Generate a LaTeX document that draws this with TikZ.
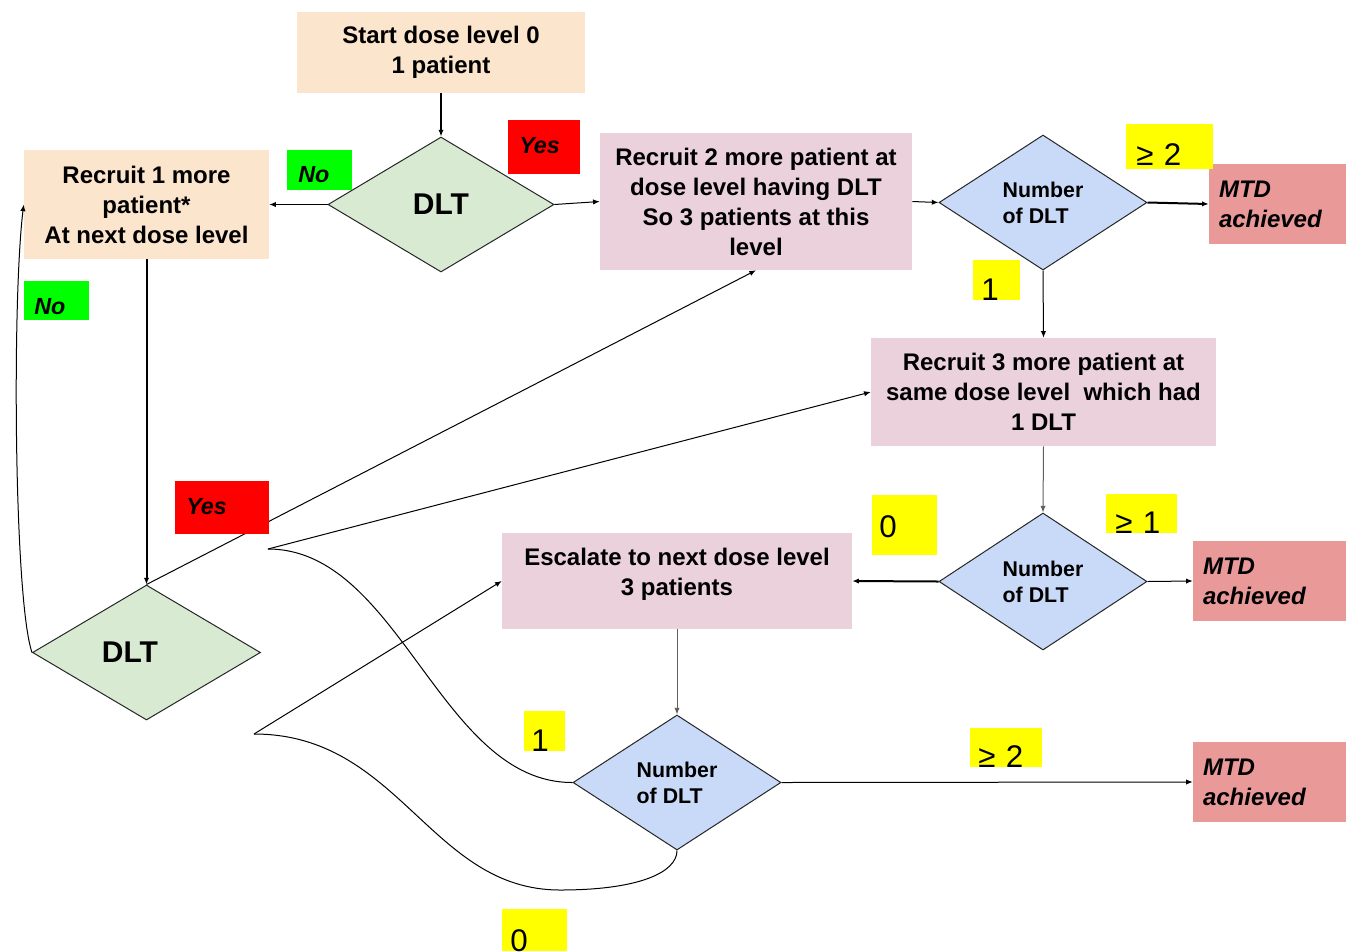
\documentclass[tikz,border=0pt]{standalone}
\usepackage{fontspec}
\setmainfont{Liberation Sans}
\usetikzlibrary{shapes.geometric,arrows.meta}
\definecolor{peachc}{HTML}{FCE5CD}
\definecolor{greenc}{HTML}{D9EAD3}
\definecolor{pinkc}{HTML}{EAD1DC}
\definecolor{bluec}{HTML}{C9DAF8}
\definecolor{mtdc}{HTML}{EA9999}
\definecolor{labgreen}{HTML}{00FF00}
\definecolor{labred}{HTML}{FF0000}
\definecolor{labyellow}{HTML}{FFFF00}
\definecolor{linegray}{HTML}{606060}
\begin{document}
\begin{tikzpicture}[x=0.75pt,y=-0.75pt,
  boxtext/.style={font=\bfseries\fontsize{18}{22.5}\selectfont, align=center, inner sep=0pt},
  box/.style={boxtext, rectangle},
  dia/.style={diamond, draw=black!85, line width=0.75pt, inner sep=0pt},
  dlttext/.style={font=\bfseries\fontsize{22.5}{27}\selectfont},
  numtext/.style={font=\bfseries\fontsize{16}{19.5}\selectfont, align=left},
  mtdbox/.style={rectangle, fill=mtdc, font=\bfseries\itshape\fontsize{18}{22.5}\selectfont, align=left, inner xsep=7.5pt, inner ysep=0pt, minimum height=60pt},
  lab/.style={anchor=base west, inner ysep=0pt, align=left},
  yn/.style={lab, font=\bfseries\itshape\fontsize{17.5}{21}\selectfont},
  ylab/.style={lab, fill=labyellow, font=\fontsize{23.5}{28}\selectfont},
  arr/.style={-{Latex[length=5pt,width=4pt]}, line width=0.75pt},
  thickarr/.style={arr, line width=1.5pt},
  plain/.style={line width=0.75pt}
]
\useasboundingbox (0,0) rectangle (1347,951);

% boxes
\node[box, fill=peachc, minimum width=216pt, minimum height=60.75pt] (start) at (441,52.5) {Start dose level 0\\1 patient\rule[-3pt]{0pt}{0pt}};
\node[box, fill=peachc, minimum width=183.75pt, minimum height=81.75pt] (rec1) at (146.5,204.5) {Recruit 1 more\\patient*\\At next dose level};
\node[box, fill=pinkc, minimum width=234pt, minimum height=102.75pt] (rec2) at (756,201.5) {Recruit 2 more patient at\\dose level having DLT\\So 3 patients at this\\level};
\node[box, fill=pinkc, minimum width=258.75pt, minimum height=81pt] (rec3) at (1043.5,392) {Recruit 3 more patient at\\same dose level\ \ which had\\1 DLT};
\node[box, fill=pinkc, minimum width=262.5pt, minimum height=72pt] (esc) at (677,581) {Escalate to next dose level\\3 patients\rule[-14pt]{0pt}{0pt}};

% diamonds
\node[dia, dlttext, fill=greenc, minimum width=169.5pt, minimum height=101.25pt] (dlt1) at (441,204.5) {DLT};
\node[dia, dlttext, fill=greenc, minimum width=171pt, minimum height=101.25pt] (dlt2) at (146.5,652.5) {DLT\hspace*{24.75pt}};
\node[dia, numtext, fill=bluec, minimum width=156pt, minimum height=101.25pt] (num1) at (1043,202.5) {Number\\of DLT};
\node[dia, numtext, fill=bluec, minimum width=156pt, minimum height=102.75pt] (num2) at (1043,581.5) {Number\\of DLT};
\node[dia, numtext, fill=bluec, minimum width=156pt, minimum height=101.25pt] (num3) at (677,782.5) {Number\\of DLT};

% MTD boxes
\node[mtdbox, text width=87.75pt] (mtd1) at (1277.5,204) {MTD\\achieved};
\node[mtdbox, text width=99.75pt] (mtd2) at (1269.5,581) {MTD\\achieved};
\node[mtdbox, text width=99.75pt] (mtd3) at (1269.5,782) {MTD\\achieved};

% fork points
\coordinate (f1) at (268,549);
\coordinate (f2) at (254,734);

% connectors
\draw[thickarr] (start.south) -- (dlt1.north);
\draw[arr] (dlt1.west) -- (rec1.east);
\draw[arr] (dlt1.east) -- (rec2.west);
\draw[arr] (rec2.east) -- (num1.west);
\draw[thickarr] (num1.east) -- (mtd1.west);
\draw[arr] (num1.south) -- (rec3.north);
\draw[arr, draw=linegray] (rec3.south) -- (num2.north);
\draw[arr] (num2.east) -- (mtd2.west);
\draw[thickarr] (num2.west) -- (esc.east);
\draw[arr, draw=linegray] (esc.south) -- (num3.north);
\draw[arr] (num3.east) -- (mtd3.west);
\draw[thickarr] (rec1.south) -- (dlt2.north);
\draw[arr] (dlt2.west) .. controls (14,600) and (12,300) .. (rec1.west);
\draw[arr] (dlt2.north) -- (rec2.south);
\draw[arr] (f1) -- (rec3.west);
\draw[plain] (f1) .. controls (400,549) and (440,783) .. (num3.west);
\draw[arr] (f2) -- (esc.west);
\draw[plain] (f2) .. controls (400,734) and (430,890) .. (560,890) .. controls (640,890) and (677,872) .. (num3.south);

% Yes / No labels
\node[yn, fill=labgreen, text width=32.25pt, inner xsep=8.25pt, text height=24.375pt, text depth=5.625pt] (no1) at (287,182.5) {No};
\node[yn, fill=labred, text width=37.5pt, inner xsep=8.25pt, text height=24.75pt, text depth=15.75pt] (yes1) at (508,153) {Yes};
\node[yn, fill=labgreen, text width=33.75pt, inner xsep=7.5pt, text height=24.75pt, text depth=4.5pt] (no2) at (24,314) {No};
\node[yn, fill=labred, text width=54pt, inner xsep=8.25pt, text height=24.75pt, text depth=15pt] (yes2) at (175,514) {Yes};

% count labels
\node[ylab, text width=50.25pt, inner xsep=7.5pt, text height=30.75pt, text depth=3pt] (ge2a) at (1126,165) {≥ 2};
\node[ylab, text width=23.25pt, inner xsep=6pt, text height=30pt, text depth=0pt] (one1) at (973,300) {1};
\node[ylab, text width=38.25pt, inner xsep=5.25pt, text height=31.5pt, text depth=13.5pt] (zero1) at (872,537) {0};
\node[ylab, text width=39.75pt, inner xsep=6.75pt, text height=29.25pt, text depth=0pt] (ge1) at (1106,533) {≥ 1};
\node[ylab, text width=20.25pt, inner xsep=5.25pt, text height=30pt, text depth=0pt] (one2) at (524,751) {1};
\node[ylab, text width=42pt, inner xsep=6pt, text height=29.25pt, text depth=0pt] (ge2b) at (970,767) {≥ 2};
\node[ylab, text width=36.75pt, inner xsep=6pt, text height=31.5pt, text depth=0pt] (zero2) at (502,951) {0};
\end{tikzpicture}
\end{document}
